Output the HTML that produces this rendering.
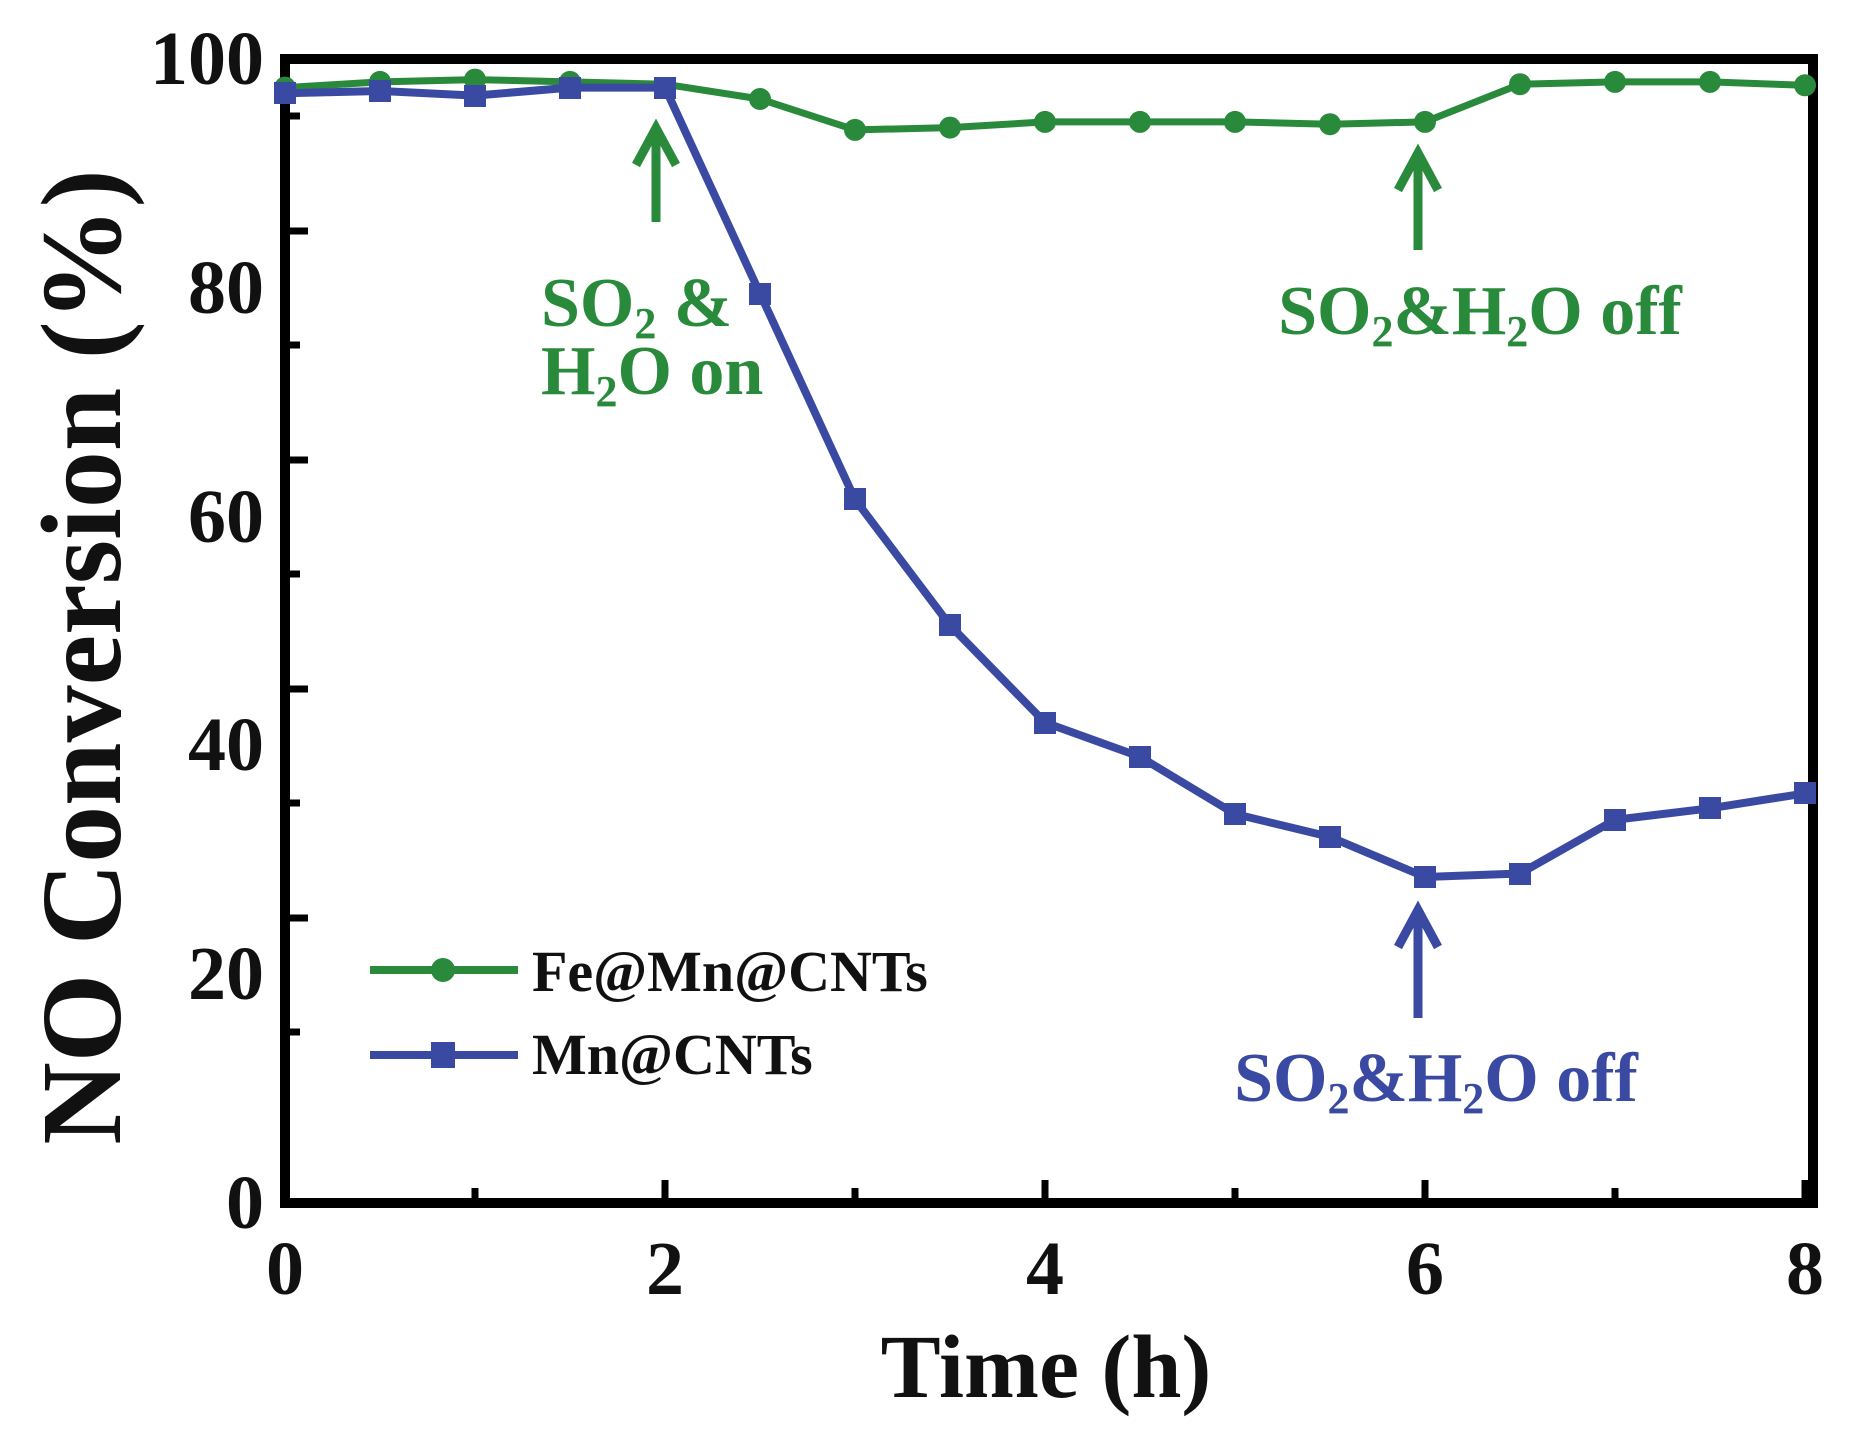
<!DOCTYPE html>
<html><head><meta charset="utf-8"><style>
html,body{margin:0;padding:0;background:#fff}
svg{display:block}
text{font-family:"Liberation Serif","Times New Roman",serif;font-weight:bold}
</style></head><body>
<svg width="1855" height="1437" viewBox="0 0 1855 1437" xmlns="http://www.w3.org/2000/svg">
<g stroke="#000" stroke-width="7">
<line x1="285" y1="1032" x2="300" y2="1032"/><line x1="285" y1="918" x2="308" y2="918"/><line x1="285" y1="803" x2="300" y2="803"/><line x1="285" y1="689" x2="308" y2="689"/><line x1="285" y1="574" x2="300" y2="574"/><line x1="285" y1="460" x2="308" y2="460"/><line x1="285" y1="345" x2="300" y2="345"/><line x1="285" y1="231" x2="308" y2="231"/><line x1="285" y1="116" x2="300" y2="116"/>
<line x1="475" y1="1203" x2="475" y2="1188"/><line x1="665" y1="1203" x2="665" y2="1180"/><line x1="855" y1="1203" x2="855" y2="1188"/><line x1="1045" y1="1203" x2="1045" y2="1180"/><line x1="1235" y1="1203" x2="1235" y2="1188"/><line x1="1425" y1="1203" x2="1425" y2="1180"/><line x1="1615" y1="1203" x2="1615" y2="1188"/><line x1="1805" y1="1203" x2="1805" y2="1180"/>
</g>
<rect x="285" y="59" width="1528" height="1144" fill="none" stroke="#000" stroke-width="10"/>
<g font-size="76" text-anchor="end" fill="#111">
<text x="264" y="1228">0</text><text x="264" y="999">20</text><text x="264" y="770">40</text><text x="264" y="542">60</text><text x="264" y="313">80</text><text x="264" y="84">100</text>
</g>
<g font-size="76" text-anchor="middle" fill="#111">
<text x="285" y="1294">0</text><text x="665" y="1294">2</text><text x="1045" y="1294">4</text><text x="1425" y="1294">6</text><text x="1805" y="1294">8</text>
</g>
<text x="1046" y="1397" font-size="90" text-anchor="middle" fill="#111">Time (h)</text>
<text transform="translate(120,657) rotate(-90)" font-size="114" text-anchor="middle" fill="#111">NO Conversion (%)</text>
<g fill="none" stroke="#2a8a3c" stroke-width="7" stroke-linejoin="round">
<polyline points="285,87.6 380,81.9 475,79.6 570,81.9 665,84.2 760,99.0 855,129.9 950,127.6 1045,121.9 1140,121.9 1235,121.9 1330,124.2 1425,121.9 1520,84.2 1615,81.9 1710,81.9 1805,85.3"/>
</g>
<g fill="#2a8a3c">
<circle cx="285" cy="87.6" r="11"/><circle cx="380" cy="81.9" r="11"/><circle cx="475" cy="79.6" r="11"/><circle cx="570" cy="81.9" r="11"/><circle cx="760" cy="99.0" r="11"/><circle cx="855" cy="129.9" r="11"/><circle cx="950" cy="127.6" r="11"/><circle cx="1045" cy="121.9" r="11"/><circle cx="1140" cy="121.9" r="11"/><circle cx="1235" cy="121.9" r="11"/><circle cx="1330" cy="124.2" r="11"/><circle cx="1425" cy="121.9" r="11"/><circle cx="1520" cy="84.2" r="11"/><circle cx="1615" cy="81.9" r="11"/><circle cx="1710" cy="81.9" r="11"/><circle cx="1805" cy="85.3" r="11"/>
</g>
<g fill="none" stroke="#3a4aa2" stroke-width="8" stroke-linejoin="round">
<polyline points="285,93.3 380,91.0 475,95.6 570,87.6 665,87.6 760,293.5 855,499.4 950,625.3 1045,722.5 1140,756.8 1235,814.0 1330,836.9 1425,877.0 1520,873.5 1615,819.8 1710,808.3 1805,793.4"/>
</g>
<g fill="#3a4aa2">
<rect x="274" y="82" width="22" height="22"/><rect x="369" y="80" width="22" height="22"/><rect x="464" y="85" width="22" height="22"/><rect x="559" y="77" width="22" height="22"/><rect x="654" y="77" width="22" height="22"/><rect x="749" y="283" width="22" height="22"/><rect x="844" y="488" width="22" height="22"/><rect x="939" y="614" width="22" height="22"/><rect x="1034" y="712" width="22" height="22"/><rect x="1129" y="746" width="22" height="22"/><rect x="1224" y="803" width="22" height="22"/><rect x="1319" y="826" width="22" height="22"/><rect x="1414" y="866" width="22" height="22"/><rect x="1509" y="863" width="22" height="22"/><rect x="1604" y="809" width="22" height="22"/><rect x="1699" y="797" width="22" height="22"/><rect x="1794" y="782" width="22" height="22"/>
</g>
<g stroke="#2a8a3c" stroke-width="9" fill="none">
<line x1="656" y1="222" x2="656" y2="132"/><polyline points="636,165 656,128 676,165"/>
<line x1="1418" y1="250" x2="1418" y2="158"/><polyline points="1398,190 1418,153 1438,190"/>
</g>
<g stroke="#3a4aa2" stroke-width="9" fill="none">
<line x1="1418" y1="1018" x2="1418" y2="915"/><polyline points="1398,947 1418,910 1438,947"/>
</g>
<g font-size="70" fill="#2a8a3c">
<text x="541" y="326">SO<tspan font-size="44" dy="12">2</tspan><tspan dy="-12"> &amp;</tspan></text>
<text x="541" y="394">H<tspan font-size="44" dy="12">2</tspan><tspan dy="-12">O on</tspan></text>
<text x="1480" y="334" text-anchor="middle">SO<tspan font-size="44" dy="12">2</tspan><tspan dy="-12">&amp;H</tspan><tspan font-size="44" dy="12">2</tspan><tspan dy="-12">O off</tspan></text>
</g>
<text x="1436" y="1101" font-size="70" fill="#3a4aa2" text-anchor="middle">SO<tspan font-size="44" dy="12">2</tspan><tspan dy="-12">&amp;H</tspan><tspan font-size="44" dy="12">2</tspan><tspan dy="-12">O off</tspan></text>
<line x1="370" y1="970" x2="518" y2="970" stroke="#2a8a3c" stroke-width="8"/>
<circle cx="443" cy="970" r="12" fill="#2a8a3c"/>
<line x1="370" y1="1055" x2="518" y2="1055" stroke="#3a4aa2" stroke-width="8"/>
<rect x="431" y="1042" width="24" height="26" fill="#3a4aa2"/>
<g font-size="58" fill="#111">
<text x="532" y="991">Fe@Mn@CNTs</text>
<text x="532" y="1074">Mn@CNTs</text>
</g>
</svg>
</body></html>
